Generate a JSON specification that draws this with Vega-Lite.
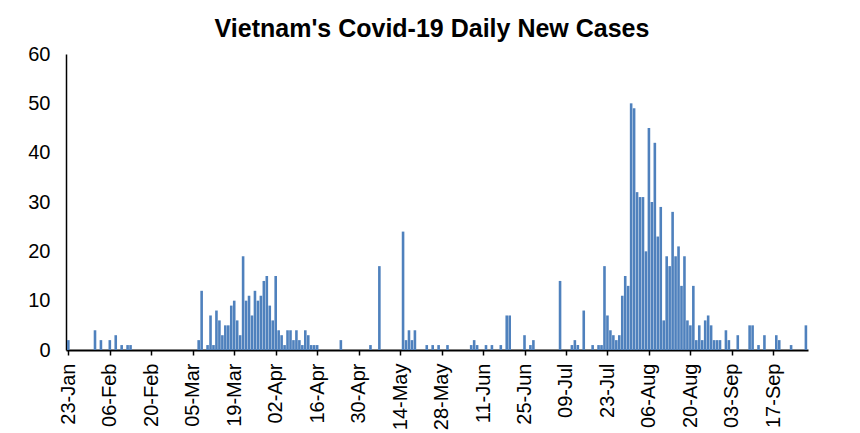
{
  "$schema": "https://vega.github.io/schema/vega-lite/v6.json",
  "width": 742,
  "height": 296,
  "autosize": "none",
  "padding": {"left": 66, "top": 54, "right": 52, "bottom": 83},
  "background": "white",
  "title": {"text": "Vietnam's Covid-19 Daily New Cases", "font": "Liberation Sans", "fontSize": 25, "fontWeight": "bold", "color": "black", "anchor": "middle", "offset": 2, "dx": -5},
  "config": {"view": {"stroke": null}},
  "data": {"values": [
    {"date": "2020-01-23", "cases": 2},
    {"date": "2020-02-01", "cases": 4},
    {"date": "2020-02-03", "cases": 2},
    {"date": "2020-02-06", "cases": 2},
    {"date": "2020-02-08", "cases": 3},
    {"date": "2020-02-10", "cases": 1},
    {"date": "2020-02-12", "cases": 1},
    {"date": "2020-02-13", "cases": 1},
    {"date": "2020-03-07", "cases": 2},
    {"date": "2020-03-08", "cases": 12},
    {"date": "2020-03-10", "cases": 1},
    {"date": "2020-03-11", "cases": 7},
    {"date": "2020-03-12", "cases": 1},
    {"date": "2020-03-13", "cases": 8},
    {"date": "2020-03-14", "cases": 6},
    {"date": "2020-03-15", "cases": 3},
    {"date": "2020-03-16", "cases": 5},
    {"date": "2020-03-17", "cases": 5},
    {"date": "2020-03-18", "cases": 9},
    {"date": "2020-03-19", "cases": 10},
    {"date": "2020-03-20", "cases": 6},
    {"date": "2020-03-21", "cases": 3},
    {"date": "2020-03-22", "cases": 19},
    {"date": "2020-03-23", "cases": 10},
    {"date": "2020-03-24", "cases": 11},
    {"date": "2020-03-25", "cases": 7},
    {"date": "2020-03-26", "cases": 12},
    {"date": "2020-03-27", "cases": 10},
    {"date": "2020-03-28", "cases": 11},
    {"date": "2020-03-29", "cases": 14},
    {"date": "2020-03-30", "cases": 15},
    {"date": "2020-03-31", "cases": 9},
    {"date": "2020-04-01", "cases": 6},
    {"date": "2020-04-02", "cases": 15},
    {"date": "2020-04-03", "cases": 4},
    {"date": "2020-04-04", "cases": 3},
    {"date": "2020-04-05", "cases": 1},
    {"date": "2020-04-06", "cases": 4},
    {"date": "2020-04-07", "cases": 4},
    {"date": "2020-04-08", "cases": 2},
    {"date": "2020-04-09", "cases": 4},
    {"date": "2020-04-10", "cases": 2},
    {"date": "2020-04-11", "cases": 1},
    {"date": "2020-04-12", "cases": 4},
    {"date": "2020-04-13", "cases": 3},
    {"date": "2020-04-14", "cases": 1},
    {"date": "2020-04-15", "cases": 1},
    {"date": "2020-04-16", "cases": 1},
    {"date": "2020-04-24", "cases": 2},
    {"date": "2020-05-04", "cases": 1},
    {"date": "2020-05-07", "cases": 17},
    {"date": "2020-05-15", "cases": 24},
    {"date": "2020-05-16", "cases": 2},
    {"date": "2020-05-17", "cases": 4},
    {"date": "2020-05-18", "cases": 2},
    {"date": "2020-05-19", "cases": 4},
    {"date": "2020-05-23", "cases": 1},
    {"date": "2020-05-25", "cases": 1},
    {"date": "2020-05-27", "cases": 1},
    {"date": "2020-05-30", "cases": 1},
    {"date": "2020-06-07", "cases": 1},
    {"date": "2020-06-08", "cases": 2},
    {"date": "2020-06-09", "cases": 1},
    {"date": "2020-06-12", "cases": 1},
    {"date": "2020-06-14", "cases": 1},
    {"date": "2020-06-17", "cases": 1},
    {"date": "2020-06-19", "cases": 7},
    {"date": "2020-06-20", "cases": 7},
    {"date": "2020-06-25", "cases": 3},
    {"date": "2020-06-27", "cases": 1},
    {"date": "2020-06-28", "cases": 2},
    {"date": "2020-07-07", "cases": 14},
    {"date": "2020-07-11", "cases": 1},
    {"date": "2020-07-12", "cases": 2},
    {"date": "2020-07-13", "cases": 1},
    {"date": "2020-07-15", "cases": 8},
    {"date": "2020-07-18", "cases": 1},
    {"date": "2020-07-20", "cases": 1},
    {"date": "2020-07-21", "cases": 1},
    {"date": "2020-07-22", "cases": 17},
    {"date": "2020-07-23", "cases": 7},
    {"date": "2020-07-24", "cases": 4},
    {"date": "2020-07-25", "cases": 3},
    {"date": "2020-07-26", "cases": 2},
    {"date": "2020-07-27", "cases": 3},
    {"date": "2020-07-28", "cases": 11},
    {"date": "2020-07-29", "cases": 15},
    {"date": "2020-07-30", "cases": 13},
    {"date": "2020-07-31", "cases": 50},
    {"date": "2020-08-01", "cases": 49},
    {"date": "2020-08-02", "cases": 32},
    {"date": "2020-08-03", "cases": 31},
    {"date": "2020-08-04", "cases": 31},
    {"date": "2020-08-05", "cases": 20},
    {"date": "2020-08-06", "cases": 45},
    {"date": "2020-08-07", "cases": 30},
    {"date": "2020-08-08", "cases": 42},
    {"date": "2020-08-09", "cases": 23},
    {"date": "2020-08-10", "cases": 29},
    {"date": "2020-08-11", "cases": 6},
    {"date": "2020-08-12", "cases": 19},
    {"date": "2020-08-13", "cases": 17},
    {"date": "2020-08-14", "cases": 28},
    {"date": "2020-08-15", "cases": 19},
    {"date": "2020-08-16", "cases": 21},
    {"date": "2020-08-17", "cases": 13},
    {"date": "2020-08-18", "cases": 19},
    {"date": "2020-08-19", "cases": 6},
    {"date": "2020-08-20", "cases": 5},
    {"date": "2020-08-21", "cases": 13},
    {"date": "2020-08-22", "cases": 2},
    {"date": "2020-08-23", "cases": 5},
    {"date": "2020-08-24", "cases": 2},
    {"date": "2020-08-25", "cases": 6},
    {"date": "2020-08-26", "cases": 7},
    {"date": "2020-08-27", "cases": 5},
    {"date": "2020-08-28", "cases": 2},
    {"date": "2020-08-29", "cases": 2},
    {"date": "2020-08-30", "cases": 2},
    {"date": "2020-09-01", "cases": 4},
    {"date": "2020-09-02", "cases": 2},
    {"date": "2020-09-05", "cases": 3},
    {"date": "2020-09-09", "cases": 5},
    {"date": "2020-09-10", "cases": 5},
    {"date": "2020-09-12", "cases": 1},
    {"date": "2020-09-14", "cases": 3},
    {"date": "2020-09-18", "cases": 3},
    {"date": "2020-09-19", "cases": 2},
    {"date": "2020-09-23", "cases": 1},
    {"date": "2020-09-28", "cases": 5}
  ]},
  "mark": {"type": "bar", "color": "#4F81BD", "size": 2.6},
  "encoding": {
    "x": {
      "field": "date",
      "type": "temporal",
      "scale": {"type": "utc", "padding": 0, "domain": [
        {"year": 2020, "month": 1, "date": 22, "hours": 5, "utc": true},
        {"year": 2020, "month": 9, "date": 28, "hours": 17, "utc": true}
      ]},
      "axis": {
        "title": null,
        "grid": false,
        "values": [
          {"year": 2020, "month": 1, "date": 23, "utc": true},
          {"year": 2020, "month": 2, "date": 6, "utc": true},
          {"year": 2020, "month": 2, "date": 20, "utc": true},
          {"year": 2020, "month": 3, "date": 5, "utc": true},
          {"year": 2020, "month": 3, "date": 19, "utc": true},
          {"year": 2020, "month": 4, "date": 2, "utc": true},
          {"year": 2020, "month": 4, "date": 16, "utc": true},
          {"year": 2020, "month": 4, "date": 30, "utc": true},
          {"year": 2020, "month": 5, "date": 14, "utc": true},
          {"year": 2020, "month": 5, "date": 28, "utc": true},
          {"year": 2020, "month": 6, "date": 11, "utc": true},
          {"year": 2020, "month": 6, "date": 25, "utc": true},
          {"year": 2020, "month": 7, "date": 9, "utc": true},
          {"year": 2020, "month": 7, "date": 23, "utc": true},
          {"year": 2020, "month": 8, "date": 6, "utc": true},
          {"year": 2020, "month": 8, "date": 20, "utc": true},
          {"year": 2020, "month": 9, "date": 3, "utc": true},
          {"year": 2020, "month": 9, "date": 17, "utc": true}
        ],
        "labelExpr": "utcFormat(datum.value, '%d-%b')",
        "labelAngle": -90,
        "labelAlign": "right",
        "labelBaseline": "middle",
        "labelFont": "Liberation Sans",
        "labelFontSize": 20,
        "labelColor": "black",
        "labelPadding": 8,
        "labelOverlap": false,
        "labelFlush": false,
        "domainColor": "black",
        "domainWidth": 2,
        "tickColor": "black",
        "tickWidth": 1.5,
        "tickSize": 5
      }
    },
    "y": {
      "field": "cases",
      "type": "quantitative",
      "scale": {"domain": [0, 60]},
      "axis": {
        "title": null,
        "grid": false,
        "values": [0, 10, 20, 30, 40, 50, 60],
        "ticks": false,
        "domain": true,
        "domainColor": "black",
        "domainWidth": 1.5,
        "labelFont": "Liberation Sans",
        "labelFontSize": 20,
        "labelColor": "black",
        "labelPadding": 16,
        "labelFlush": false
      }
    }
  }
}
